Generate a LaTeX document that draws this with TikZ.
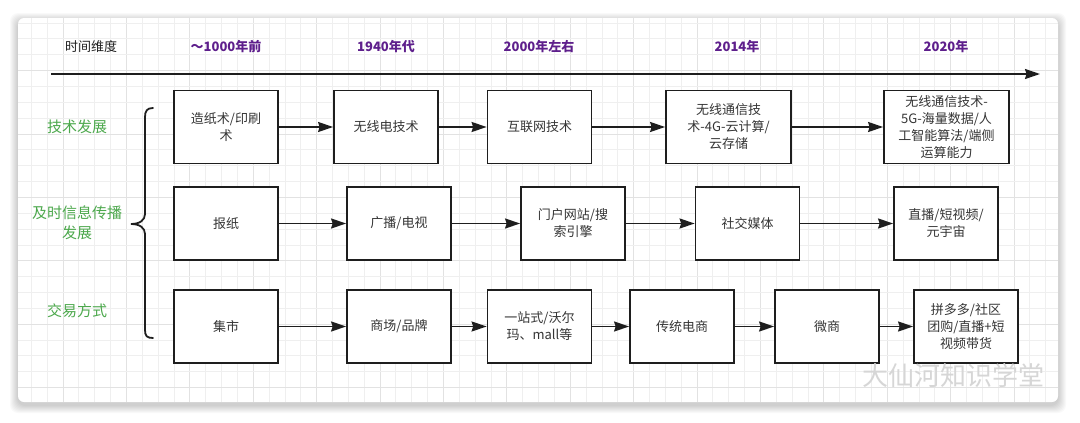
\documentclass[tikz,border=0pt]{standalone}
\usepackage{fontspec}
\setmainfont{Noto Sans CJK SC}
\usepackage{tikz}
\usetikzlibrary{arrows.meta}
\definecolor{ink}{HTML}{1E1E1E}
\definecolor{gridm}{HTML}{EFEFEF}
\definecolor{gridM}{HTML}{E2E2E2}
\definecolor{eracol}{HTML}{5E1F8C}
\definecolor{topiccol}{HTML}{4CA84C}
\definecolor{mark}{HTML}{D6D6D6}
\tikzset{
  card/.style={fill=white, rounded corners=6pt},
  gridminor/.style={draw=gridm, line width=0.8pt},
  gridmajor/.style={draw=gridM, line width=0.9pt},
  timeline/.style={-{Stealth[length=15pt,width=10pt,inset=1.5pt]}, line width=1.8pt, draw=ink},
  flow/.style={-{Stealth[length=15pt,width=10pt,inset=1.5pt]}, line width=1.8pt, draw=ink},
  box/.style={draw=ink, line width=1.8pt, fill=white, minimum height=73pt,
    align=center, inner sep=2pt, text=ink!90, font=\fontsize{13}{17}\selectfont},
  wbox/.style={box, minimum width=104pt},
  xbox/.style={box, minimum width=125pt},
  era/.style={text=eracol, font=\bfseries\fontsize{13}{15}\selectfont},
  hdr/.style={text=ink, font=\fontsize{13}{15}\selectfont},
  topic/.style={text=topiccol, font=\fontsize{15}{20}\selectfont, align=center},
  brace/.style={draw=ink, line width=1.8pt, line cap=round}
}
\begin{document}
\begin{tikzpicture}[x=1pt, y=-1pt]
  \useasboundingbox (0,0) rectangle (1080,423);
  \fill[white] (0,0) rectangle (1080,423);

  % card with soft shadow
  \foreach \s in {1,...,8}
    \fill[black, opacity=0.025, rounded corners=8pt] (18-\s,18-\s+3) rectangle (1058+\s,402+\s+3);
  \fill[card] (18,18) rectangle (1058,402);
  \begin{scope}
    \clip[rounded corners=6pt] (18,18) rectangle (1058,402);
    \foreach \n in {1,...,67} {
      \pgfmathtruncatemacro{\q}{mod(\n,4)}
      \ifnum\q=0 \draw[gridmajor] ({-0.4+15.85*\n},18) -- ++(0,384);
      \else \draw[gridminor] ({-0.4+15.85*\n},18) -- ++(0,384); \fi
    }
    \foreach \n in {1,...,25} {
      \pgfmathtruncatemacro{\q}{mod(\n,4)}
      \ifnum\q=0 \draw[gridmajor] (18,{7.15+15.85*\n}) -- ++(1040,0);
      \else \draw[gridminor] (18,{7.15+15.85*\n}) -- ++(1040,0); \fi
    }
  \end{scope}

  % time axis
  \node[hdr] (t0) at (91,47) {时间维度};
  \node[era] (t1) at (226,47) {～1000年前};
  \node[era] (t2) at (386,47) {1940年代};
  \node[era] (t3) at (539,47) {2000年左右};
  \node[era] (t4) at (737,47) {2014年};
  \node[era] (t5) at (946,47) {2020年};
  \coordinate (tstart) at (51,74);
  \coordinate (tend) at (1040,74);
  \draw[timeline] (tstart) -- (tend);

  % row labels and brace
  \node[topic] (rowA) at (77,127) {技术发展};
  \node[topic] (rowB) at (77,223) {及时信息传播\\发展};
  \node[topic] (rowC) at (77,311) {交易方式};
  \draw[brace] (153,108) .. controls (147,108) and (145,111) .. (145,117) -- (145,214)
    .. controls (145,220) and (140,224) .. (131,224)
    .. controls (140,224) and (145,228) .. (145,234) -- (145,330)
    .. controls (145,336) and (147,338) .. (153,338);

  % technology
  \node[wbox] (a1) at (226,127) {造纸术/印刷\\术};
  \node[wbox] (a2) at (386,127) {无线电技术};
  \node[wbox] (a3) at (539.5,127) {互联网技术};
  \node[xbox] (a4) at (728.5,127) {无线通信技\\术-4G-云计算/\\云存储};
  \node[xbox] (a5) at (946.5,127) {无线通信技术-\\5G-海量数据/人\\工智能算法/端侧\\运算能力};
  \draw[flow] (a1) -- (a2);
  \draw[flow] (a2) -- (a3);
  \draw[flow] (a3) -- (a4);
  \draw[flow] (a4) -- (a5);

  % information
  \node[wbox] (b1) at (226,223.5) {报纸};
  \node[wbox] (b2) at (399,223.5) {广播/电视};
  \node[wbox] (b3) at (573,223.5) {门户网站/搜\\索引擎};
  \node[wbox] (b4) at (747.5,223.5) {社交媒体};
  \node[wbox] (b5) at (946,223.5) {直播/短视频/\\元宇宙};
  \draw[flow] (b1) -- (b2);
  \draw[flow] (b2) -- (b3);
  \draw[flow] (b3) -- (b4);
  \draw[flow] (b4) -- (b5);

  % trade
  \node[wbox] (c1) at (226,326.5) {集市};
  \node[wbox] (c2) at (399,326.5) {商场/品牌};
  \node[wbox] (c3) at (539.5,326.5) {一站式/沃尔\\玛、mall等};
  \node[wbox] (c4) at (682,326.5) {传统电商};
  \node[wbox] (c5) at (827,326.5) {微商};
  \node[wbox] (c6) at (966,326.5) {拼多多/社区\\团购/直播+短\\视频带货};
  \draw[flow] (c1) -- (c2);
  \draw[flow] (c2) -- (c3);
  \draw[flow] (c3) -- (c4);
  \draw[flow] (c4) -- (c5);
  \draw[flow] (c5) -- (c6);

  \node[text=mark, font=\fontsize{26}{28}\selectfont] (wm) at (953,375) {大仙河知识学堂};
\end{tikzpicture}
\end{document}
